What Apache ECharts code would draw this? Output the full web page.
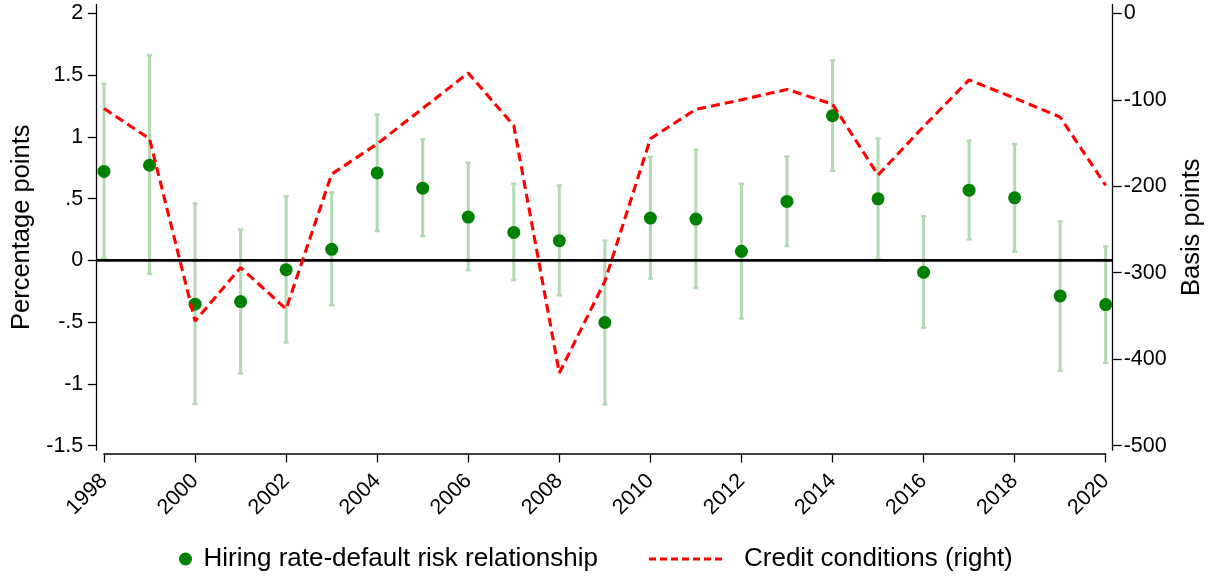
<!DOCTYPE html>
<html>
<head>
<meta charset="utf-8">
<script src="https://cdn.jsdelivr.net/npm/echarts@6/dist/echarts.min.js"></script>
<style>
  html, body { margin: 0; padding: 0; background: #fff; overflow: hidden; }
  #chart { width: 1211px; height: 576px; }
</style>
</head>
<body>
<div id="chart"></div>
<script>
// ---- Data ----
const years = [1998, 1999, 2000, 2001, 2002, 2003, 2004, 2005, 2006, 2007, 2008, 2009,
               2010, 2011, 2012, 2013, 2014, 2015, 2016, 2017, 2018, 2019, 2020];
const estimate = [0.72, 0.77, -0.355, -0.334, -0.075, 0.089, 0.708, 0.584, 0.35, 0.226, 0.159, -0.503,
                  0.342, 0.334, 0.073, 0.477, 1.171, 0.498, -0.097, 0.568, 0.506, -0.288, -0.358];
const upperCI = [1.43, 1.66, 0.46, 0.25, 0.52, 0.55, 1.18, 0.98, 0.79, 0.62, 0.606, 0.159,
                 0.838, 0.897, 0.62, 0.84, 1.62, 0.985, 0.358, 0.969, 0.942, 0.315, 0.113];
const lowerCI = [0.02, -0.11, -1.163, -0.915, -0.665, -0.363, 0.237, 0.196, -0.08, -0.16, -0.283, -1.166,
                 -0.148, -0.226, -0.471, 0.116, 0.725, 0.013, -0.547, 0.17, 0.07, -0.894, -0.83];
const creditConditions = [-110, -145, -356, -294, -342, -186, -151, -110, -69, -130, -416, -310,
                          -145, -111, -100, -88, -105, -187, -131, -77, -98, -120, -199];
const leftTicks = [-1.5, -1, -0.5, 0, 0.5, 1, 1.5, 2];
const rightTicks = [-500, -400, -300, -200, -100, 0];
const zeroLineValue = 0;
const seriesNames = ['Hiring rate-default risk relationship', 'Credit conditions (right)'];
const axisTitles = ['Percentage points', 'Basis points'];

// ---- Build ----
const FONT = '"Liberation Sans", Arial, Helvetica, sans-serif';
const GREEN = '#008000';
const CI_COLOR = '#b2d9b2';
const RED = '#ff0000';

const ciData = years.map((y, i) => [y, lowerCI[i], upperCI[i]]);
const estData = years.map((y, i) => [y, estimate[i]]);
const creditData = years.map((y, i) => [y, creditConditions[i]]);

const stataFmt = v => String(v).replace(/^(-?)0\./, '$1.');

// dashed legend icon: 7 dashes with gaps, 3px thick
const dashIcon = 'path://' + [0, 11, 22, 33, 44, 55, 66].map(x => 'M' + x + ',0h7v3h-7z').join(' ');

const chart = echarts.init(document.getElementById('chart'), null, { renderer: 'canvas' });

const axisLineStyle = { color: '#000', width: 1.3 };

const option = {
  animation: false,
  backgroundColor: '#fff',
  textStyle: { fontFamily: FONT },
  grid: [
    { left: 104, right: 105.3, top: 4.5, bottom: 126, containLabel: false, outerBoundsMode: 'none' },
    { left: 96.5, right: 98.5, top: 4.5, bottom: 126, containLabel: false, outerBoundsMode: 'none' }
  ],
  legend: [
    {
      data: [seriesNames[0]],
      left: 179, top: 546, padding: 0,
      icon: 'circle',
      itemWidth: 26, itemHeight: 13,
      textStyle: { fontFamily: FONT, fontSize: 26, color: '#000' }
    },
    {
      data: [{ name: seriesNames[1], icon: dashIcon }],
      left: 649, top: 546, padding: 0,
      itemWidth: 77, itemHeight: 3,
      itemStyle: { color: RED },
      textStyle: { fontFamily: FONT, fontSize: 26, color: '#000', padding: [0, 0, 0, 15] }
    }
  ],
  xAxis: [
    {
      type: 'value', gridIndex: 0,
      min: years[0], max: years[years.length - 1], interval: 2,
      offset: 3.5,
      axisLine: { show: true, onZero: false, lineStyle: { color: '#000', width: 1.6 } },
      axisTick: { show: true, length: 9, lineStyle: { color: '#000', width: 1.3 } },
      axisLabel: { rotate: 45, margin: 24, fontSize: 21.5, color: '#000', fontFamily: FONT,
                   padding: [22, 0, 0, 0], formatter: v => String(v) },
      splitLine: { show: false }
    },
    { type: 'value', gridIndex: 1, min: 0, max: 1, show: false }
  ],
  yAxis: [
    {
      type: 'value', gridIndex: 0, position: 'left', offset: 7.7,
      min: -1.535, max: 2.071,
      name: axisTitles[0], nameLocation: 'middle', nameGap: 58, nameRotate: 90,
      nameTextStyle: { fontSize: 25.5, color: '#000', fontFamily: FONT },
      axisLine: { show: true, onZero: false, lineStyle: axisLineStyle },
      axisTick: { show: true, length: 8.5, lineStyle: axisLineStyle, customValues: leftTicks },
      axisLabel: { margin: 13, fontSize: 21.5, color: '#000', fontFamily: FONT,
                   customValues: leftTicks, formatter: stataFmt },
      splitLine: { show: false }
    },
    {
      type: 'value', gridIndex: 0, position: 'right', offset: 7,
      min: -505, max: 10.2,
      name: axisTitles[1], nameLocation: 'middle', nameGap: 66, nameRotate: 90,
      nameTextStyle: { fontSize: 25.5, color: '#000', fontFamily: FONT },
      axisLine: { show: true, onZero: false, lineStyle: axisLineStyle },
      axisTick: { show: true, length: 9, lineStyle: axisLineStyle, customValues: rightTicks },
      axisLabel: { margin: 11, fontSize: 21.5, color: '#000', fontFamily: FONT,
                   customValues: rightTicks },
      splitLine: { show: false }
    },
    { type: 'value', gridIndex: 1, min: -1.535, max: 2.071, show: false }
  ],
  series: [
    {
      name: 'CI', type: 'custom', xAxisIndex: 0, yAxisIndex: 0,
      data: ciData, z: 1,
      renderItem: function (params, api) {
        const x = api.value(0);
        const pLo = api.coord([x, api.value(1)]);
        const pHi = api.coord([x, api.value(2)]);
        const cw = 2.6;
        const st = { stroke: CI_COLOR, lineWidth: 3 };
        const cap = { stroke: CI_COLOR, lineWidth: 2.4 };
        return {
          type: 'group',
          children: [
            { type: 'line', shape: { x1: pLo[0], y1: pLo[1], x2: pHi[0], y2: pHi[1] }, style: st },
            { type: 'line', shape: { x1: pHi[0] - cw, y1: pHi[1], x2: pHi[0] + cw, y2: pHi[1] }, style: cap },
            { type: 'line', shape: { x1: pLo[0] - cw, y1: pLo[1], x2: pLo[0] + cw, y2: pLo[1] }, style: cap }
          ]
        };
      }
    },
    {
      name: 'zero', type: 'line', xAxisIndex: 1, yAxisIndex: 2, z: 2,
      data: [[0, zeroLineValue], [1, zeroLineValue]],
      symbol: 'none', silent: true,
      lineStyle: { color: '#000', width: 2.6 }
    },
    {
      name: seriesNames[0], type: 'scatter', xAxisIndex: 0, yAxisIndex: 0, z: 3,
      data: estData, symbol: 'circle', symbolSize: 13,
      itemStyle: { color: GREEN, opacity: 1 }
    },
    {
      name: seriesNames[1], type: 'line', xAxisIndex: 0, yAxisIndex: 1, z: 4,
      data: creditData, symbol: 'none', showSymbol: false,
      lineStyle: { color: RED, width: 3.1, type: [9, 5] },
      itemStyle: { color: RED }
    }
  ]
};
chart.setOption(option);
</script>
</body>
</html>
